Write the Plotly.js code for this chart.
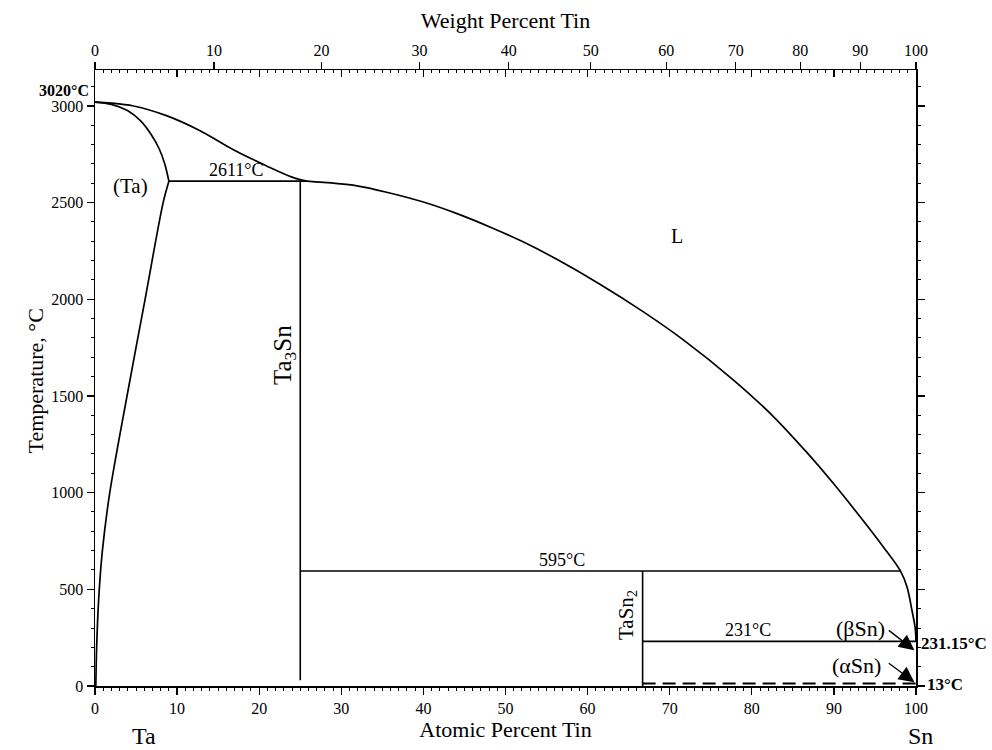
<!DOCTYPE html>
<html>
<head>
<meta charset="utf-8">
<script src="https://cdn.plot.ly/plotly-3.0.1.min.js"></script>
<style>html,body{margin:0;padding:0;background:#fff}#chart{width:992px;height:750px}</style>
</head>
<body>
<div id="chart"></div>
<script>
// ---- data (atomic percent Sn, temperature °C) ----
const liqUpperAt = [0, 2, 4.7, 8.7, 12.8, 16.8, 20.9, 24.0, 25.8];
const liqUpperT  = [3020, 3015, 3000, 2950, 2872, 2775, 2690, 2632, 2611];

const solidusAt = [0, 2, 4, 5.5, 6.8, 7.8, 8.5, 9.0];
const solidusT  = [3020, 3008, 2975, 2925, 2855, 2780, 2700, 2611];

const solvusAt = [9.0, 8.3, 6.1, 3.9, 1.8, 0.9, 0.45, 0.2, 0.1];
const solvusT  = [2611, 2500, 2000, 1500, 1000, 700, 450, 200, 0];

const liqLowerAt = [25.8, 31.9, 35.9, 40.0, 44.1, 48.1, 52.2, 56.2, 61.5, 66.8, 71.7, 77.7, 82.6, 86.7, 89.9, 93.2, 96.0, 98.1, 98.9, 99.5, 99.9, 100];
const liqLowerT  = [2611, 2587, 2550, 2503, 2443, 2374, 2296, 2208, 2078, 1935, 1789, 1585, 1395, 1208, 1050, 875, 720, 595, 513, 393, 300, 231.15];

const peritecticAt = [9.0, 25.8];   const peritecticT = [2611, 2611];
const eutecticAt   = [25, 98.1];    const eutecticT   = [595, 595];
const tin231At     = [66.7, 100];   const tin231T     = [231, 231];
const alphaAt      = [66.7, 100];   const alphaT      = [13, 13];
const ta3snAt      = [25, 25];      const ta3snT      = [2611, 30];
const tasn2At      = [66.7, 66.7];  const tasn2T      = [595, 0];

const wtTicks = [0, 10, 20, 30, 40, 50, 60, 70, 80, 90, 100];
const M_SN = 118.71, M_TA = 180.95;
function wtToAt(w){ const a = w / M_SN, b = (100 - w) / M_TA; return 100 * a / (a + b); }

const FONT = 'Liberation Serif, Times New Roman, serif';
const solid = {color:'#000', width:1.6};
const curve = {color:'#000', width:1.7, shape:'spline', smoothing:0.9};
function line(x, y, ln){ return {x:x, y:y, mode:'lines', type:'scatter', line: ln || solid, hoverinfo:'skip', showlegend:false}; }

const traces = [
  line(liqUpperAt, liqUpperT, curve),
  line(solidusAt, solidusT, curve),
  line(solvusAt, solvusT, curve),
  line(liqLowerAt, liqLowerT, curve),
  line(peritecticAt, peritecticT),
  line(eutecticAt, eutecticT),
  line(tin231At, tin231T),
  line(alphaAt, alphaT, {color:'#000', width:2, dash:'13px,7px'}),
  line(ta3snAt, ta3snT),
  line(tasn2At, tasn2T),
  {x:[0], y:[0], xaxis:'x2', yaxis:'y', mode:'markers', marker:{opacity:0}, hoverinfo:'skip', showlegend:false},
  {x:[0], y:[0], xaxis:'x3', yaxis:'y', mode:'markers', marker:{opacity:0}, hoverinfo:'skip', showlegend:false},
  {x:[0], y:[0], xaxis:'x', yaxis:'y2', mode:'markers', marker:{opacity:0}, hoverinfo:'skip', showlegend:false}
];

const tf = {family:FONT, size:16, color:'#000'};
const YR = [0, 3186];

function f(s){ return {family:FONT, size:s, color:'#000'}; }
function ann(x, y, text, opts){
  return Object.assign({x:x, y:y, xref:'x', yref:'y', text:text, showarrow:false, font:f(18)}, opts||{});
}

const annotations = [
  ann(17.2, 2611, '2611°C', {yanchor:'bottom', yshift:-1, font:f(18)}),
  ann(4.3, 2585, '(Ta)', {font:f(21)}),
  ann(70.9, 2327, 'L', {font:f(20)}),
  ann(23.0, 1711, 'Ta<sub>3</sub>Sn', {textangle:-90, font:f(25)}),
  ann(64.8, 367, 'TaSn<sub>2</sub>', {textangle:-90, font:f(21)}),
  ann(56.9, 595, '595°C', {yanchor:'bottom', yshift:-1, font:f(18)}),
  ann(79.5, 231, '231°C', {yanchor:'bottom', yshift:-1, font:f(18)}),
  ann(93.3, 298, '(βSn)', {font:f(22)}),
  ann(92.8, 108, '(αSn)', {font:f(22)}),
  ann(100, 222, '<b>231.15°C</b>', {xanchor:'left', xshift:3, font:f(17)}),
  ann(100, 6, '<b>13°C</b>', {xanchor:'left', xshift:9, font:f(17)}),
  ann(0, 3082, '<b>3020°C</b>', {xanchor:'right', xshift:-4, font:f(16)}),
  // arrows
  {x:99.8, y:185, xref:'x', yref:'y', text:'', showarrow:true, arrowhead:2, arrowsize:2.2, arrowwidth:1.4, arrowcolor:'#000', ax:-27, ay:-21, standoff:0},
  {x:99.8, y:20, xref:'x', yref:'y', text:'', showarrow:true, arrowhead:2, arrowsize:2.2, arrowwidth:1.4, arrowcolor:'#000', ax:-27, ay:-20, standoff:0},
  // element labels
  {x:(130-95)/821, y:0, xref:'paper', yref:'paper', yanchor:'top', yshift:-35, text:'Ta', showarrow:false, font:f(24)},
  {x:(935-95)/821, y:0, xref:'paper', yref:'paper', yanchor:'top', yshift:-35, text:'Sn', showarrow:false, font:f(24)},
  // y-axis title
  {x:(20-95)/821, y:(686-381)/616, xref:'paper', yref:'paper', text:'Temperature, °C', textangle:-90, showarrow:false, font:f(22)}
];

const layout = {
  width:992, height:750,
  margin:{l:95, r:76, t:70, b:64},
  paper_bgcolor:'#fff', plot_bgcolor:'#fff',
  showlegend:false,
  font:{family:FONT, color:'#000'},
  xaxis:{
    range:[0,100], showgrid:false, zeroline:false, showline:true, linecolor:'#000', linewidth:1.5,
    ticks:'outside', ticklen:7, tickwidth:1.3, tickcolor:'#000', dtick:10, tick0:0, tickfont:tf,
    minor:{ticks:'outside', dtick:1, ticklen:3, tickwidth:1, tickcolor:'#000', showgrid:false},
    title:{text:'Atomic Percent Tin', font:f(22), standoff:6}
  },
  xaxis3:{
    overlaying:'x', side:'top', anchor:'y', range:[0,100], showgrid:false, zeroline:false, showline:true, linecolor:'#000', linewidth:1.5,
    ticks:'inside', ticklen:7, tickwidth:1.3, tickcolor:'#000', dtick:10, tick0:0, showticklabels:false,
    minor:{ticks:'inside', dtick:1, ticklen:3, tickwidth:1, tickcolor:'#000', showgrid:false}
  },
  xaxis2:{
    overlaying:'x', side:'top', anchor:'y', range:[0,100], showgrid:false, zeroline:false, showline:false,
    ticks:'outside', ticklen:7, tickwidth:1.3, tickcolor:'#000',
    tickmode:'array', tickvals:wtTicks.map(wtToAt), ticktext:wtTicks.map(String), tickfont:tf,
    title:{text:'Weight Percent Tin', font:f(22), standoff:6}
  },
  yaxis:{
    range:YR, showgrid:false, zeroline:false, showline:true, linecolor:'#000', linewidth:1.5,
    ticks:'outside', ticklen:7, tickwidth:1.3, tickcolor:'#000', dtick:500, tick0:0, tickfont:tf,
    minor:{ticks:'outside', dtick:100, ticklen:3, tickwidth:1, tickcolor:'#000', showgrid:false}
  },
  yaxis2:{
    overlaying:'y', side:'right', anchor:'x', range:YR, showgrid:false, zeroline:false, showline:true, linecolor:'#000', linewidth:1.5,
    ticks:'outside', ticklen:7, tickwidth:1.3, tickcolor:'#000', dtick:500, tick0:0, showticklabels:false,
    minor:{ticks:'outside', dtick:100, ticklen:3, tickwidth:1, tickcolor:'#000', showgrid:false}
  },
  annotations:annotations
};

Plotly.newPlot('chart', traces, layout, {staticPlot:true, displayModeBar:false});
</script>
</body>
</html>
